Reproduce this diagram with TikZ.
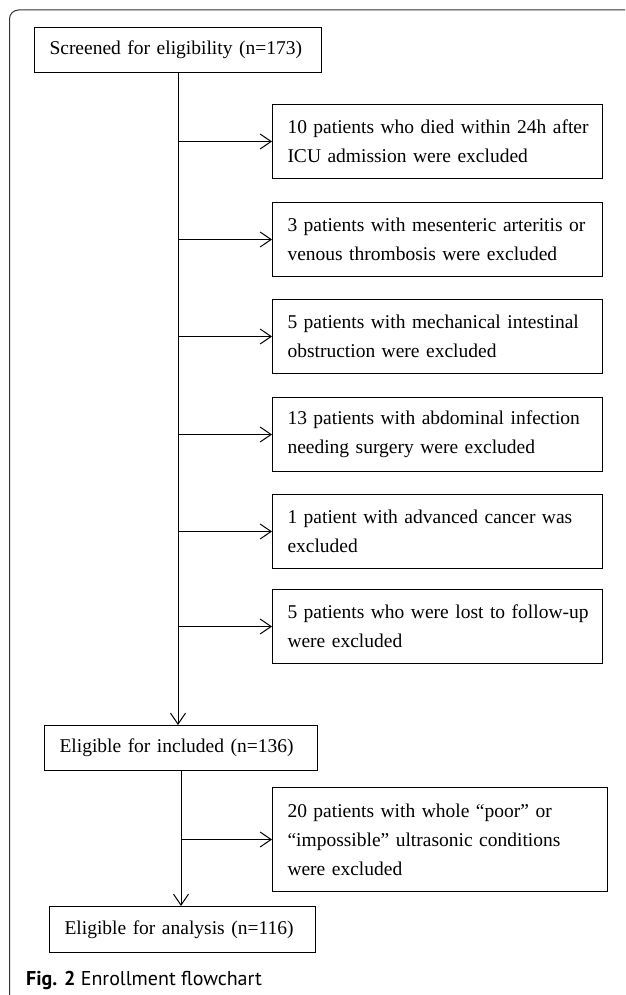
\documentclass[tikz,border=0pt]{standalone}
\usepackage{fontspec}
\setmainfont{Liberation Serif}
\newfontfamily\capfont{PT Sans}
\usetikzlibrary{arrows.meta}

\tikzset{
    flowbox/.style={draw, line width=1pt, anchor=north west, align=left,
        inner xsep=15pt, inner ysep=0pt,
        font=\fontsize{19.5}{29}\selectfont},
    exbox/.style={flowbox, inner xsep=15pt, text width=300pt, minimum height=74pt},
    flowarrow/.style={line width=1pt, -{Straight Barb[length=11pt,width=15pt,line width=1pt]}}
}

\begin{document}
\begin{tikzpicture}[x=1pt,y=-1pt]
    \useasboundingbox (0,0) rectangle (625,995);

    % Frame
    \begin{scope}
        \clip (0,0) rectangle (625,995);
        \draw [line width=1pt, black!80, rounded corners=9pt]
            (640,10) -- (9.5,10) -- (9.5,1003) -- (640,1003);
    \end{scope}

    % Main boxes
    \node [flowbox, text width=257pt, minimum height=45pt] (screen) at (34,27)
        {\mbox{Screened for eligibility (n=173)}};
    \node [flowbox, text width=243pt, minimum height=45pt] (included) at (44,725)
        {Eligible for included (n=136)};
    \node [flowbox, text width=236pt, minimum height=46pt] (analysis) at (49,906)
        {Eligible for analysis (n=116)};

    % Exclusions
    \node [exbox] (died) at (272,104)
        {\mbox{10 patients who died within 24h after}\\ICU admission were excluded};
    \node [exbox] (arteritis) at (272,202)
        {\mbox{3 patients with mesenteric arteritis or}\\venous thrombosis were excluded};
    \node [exbox] (obstruction) at (272,299)
        {\mbox{5 patients with mechanical intestinal}\\obstruction were excluded};
    \node [exbox] (infection) at (272,397)
        {\mbox{13 patients with abdominal infection}\\needing surgery were excluded};
    \node [exbox] (cancer) at (272,494)
        {1 patient with advanced cancer was\\excluded};
    \node [exbox] (lost) at (272,589)
        {\mbox{5 patients who were lost to follow-up}\\were excluded};
    \node [exbox, text width=305pt, minimum height=104pt] (ultrasound) at (272,787)
        {20 patients with whole ``poor'' or\\``impossible'' ultrasonic conditions\\were excluded};

    % Arrows
    \draw [flowarrow] (screen.south) -- (screen.south |- included.north);
    \draw [flowarrow] (screen.south |- died.west) -- (died.west);
    \draw [flowarrow] (screen.south |- arteritis.west) -- (arteritis.west);
    \draw [flowarrow] (screen.south |- obstruction.west) -- (obstruction.west);
    \draw [flowarrow] (screen.south |- infection.west) -- (infection.west);
    \draw [flowarrow] (screen.south |- cancer.west) -- (cancer.west);
    \draw [flowarrow] (screen.south |- lost.west) -- (lost.west);

    \draw [flowarrow] (included.south) -- (included.south |- analysis.north);
    \draw [flowarrow] (included.south |- ultrasound.west) -- (ultrasound.west);

    % Caption
    \node [anchor=base west, inner sep=0pt, font=\capfont\fontsize{20}{24}\selectfont] (caption) at (26,985)
        {\textbf{Fig. 2} Enrollment flowchart};
\end{tikzpicture}
\end{document}
